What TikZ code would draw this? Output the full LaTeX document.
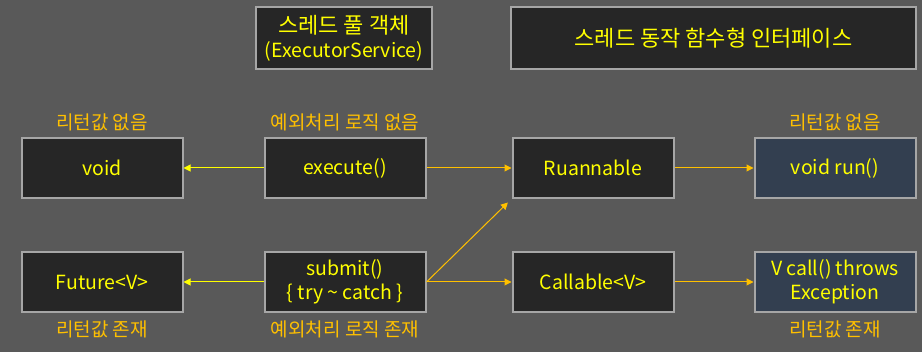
\documentclass[tikz,border=0pt]{standalone}
\usepackage{fontspec}
\setmainfont{Noto Sans CJK KR}
\usetikzlibrary{arrows.meta,positioning}
\definecolor{bgcol}{HTML}{595959}
\definecolor{boxcol}{HTML}{262626}
\definecolor{bluecol}{HTML}{333F50}
\definecolor{edgecol}{HTML}{A6A6A6}
\definecolor{txtyel}{HTML}{FFFF00}
\definecolor{txtorg}{HTML}{FFC000}
\newcommand{\krtitle}[1]{{\fontsize{22}{26}\selectfont #1}}

\begin{document}
\begin{tikzpicture}[
  >={Triangle[length=7pt,width=7pt]},
  box/.style={draw=edgecol, line width=2pt, fill=boxcol, minimum width=161pt,
              minimum height=60pt, align=center, text=txtyel,
              font=\fontsize{19.5}{24}\selectfont},
  note/.style={text=txtorg, font=\fontsize{19}{22}\selectfont, inner sep=2pt},
  arr/.style={->, line width=1pt, txtorg},
  back/.style={->, line width=1pt, txtyel},
]

% Background
\fill[bgcol] (0,0) rectangle (922pt,-352pt);
\useasboundingbox (0,0) rectangle (922pt,-352pt);

% Titles
\node[box, minimum width=176pt, minimum height=62pt] (pool) at (344pt,-38pt)
  {\krtitle{스레드 풀 객체}\\(ExecutorService)};
\node[box, minimum width=405pt, minimum height=62pt] (iface) at (713.5pt,-38pt)
  {\krtitle{스레드 동작 함수형 인터페이스}};

% Upper row
\node[box] (void) at (102pt,-168pt) {void};
\node[box, right=80pt of void] (exec) {execute()};
\node[box, right=85pt of exec] (rn) {Ruannable};
\node[box, fill=bluecol, right=79pt of rn] (run) {void run()};

% Lower row
\node[box, below=52pt of void] (fut) {Future<V>};
\node[box, below=52pt of exec] (submit) {submit()\\\{ try \textasciitilde{} catch \}};
\node[box, below=52pt of rn] (call) {Callable<V>};
\node[box, fill=bluecol, below=52pt of run] (vcall) {V call() throws\\Exception};

% Notes
\node[note, above=4pt of void] (n1) {리턴값 없음};
\node[note, above=4pt of exec] (n2) {예외처리 로직 없음};
\node[note, above=4pt of run] (n3) {리턴값 없음};
\node[note, below=6pt of fut] (n4) {리턴값 존재};
\node[note, below=6pt of submit] (n5) {예외처리 로직 존재};
\node[note, below=6pt of vcall] (n6) {리턴값 존재};

% Connectors
\draw[back] (exec) -- (void);
\draw[arr] (exec) -- (rn);
\draw[arr] (rn) -- (run);
\draw[back] (submit) -- (fut);
\draw[arr] (submit.east) -- (call.west);
\draw[arr, shorten >=5pt] (submit.east) -- (rn.south west);
\draw[arr] (call) -- (vcall);

\end{tikzpicture}
\end{document}
